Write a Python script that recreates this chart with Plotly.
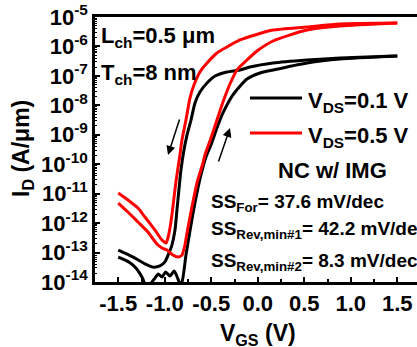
import plotly.graph_objects as go

# ---------------- data ----------------
# V_DS = 0.1 V, forward sweep (-1.5 -> 1.5)
v_blk_fwd = [-1.50, -1.43, -1.37, -1.31, -1.27, -1.23, -1.20, -1.16, -1.105, -1.07, -1.03, -0.99,
             -0.944, -0.90, -0.87, -0.837, -0.815, -0.772, -0.718, -0.665, -0.611, -0.557, -0.503,
             -0.439, -0.374, -0.267, -0.116, 0.024, 0.164, 0.529, 0.884, 1.50]
i_blk_fwd = [7.0e-14, 5.6e-14, 4.4e-14, 3.0e-14, 2.0e-14, 1.17e-14, 6e-15, 8e-15, 1.36e-14, 1.86e-14,
             1.47e-14, 2.18e-14, 1.59e-14, 2.35e-14, 1.59e-14, 9e-15, 1.0e-14, 8.2e-14, 8.6e-13,
             7.1e-12, 4.3e-11, 1.76e-10, 4.5e-10, 1.70e-9, 5.5e-9, 2.25e-8, 7.8e-8, 1.25e-7,
             1.58e-7, 2.74e-7, 3.74e-7, 4.73e-7]

# V_DS = 0.1 V, reverse sweep (1.5 -> -1.5)
v_blk_rev = [1.50, 0.884, 0.529, 0.164, -0.084, -0.191, -0.331, -0.46, -0.536, -0.622, -0.675,
             -0.718, -0.761, -0.794, -0.826, -0.848, -0.869, -0.890, -0.923, -0.955, -0.998,
             -1.052, -1.127, -1.213, -1.32, -1.428, -1.50]
i_blk_rev = [4.73e-7, 4.05e-7, 3.46e-7, 2.74e-7, 2.0e-7, 1.58e-7, 1.36e-7, 9.9e-8, 6.2e-8, 2.83e-8,
             1.20e-8, 3.17e-9, 9.8e-10, 3.0e-10, 6.3e-11, 1.33e-11, 2.78e-12, 5.8e-13, 1.80e-13,
             9.6e-14, 4.8e-14, 3.5e-14, 3.2e-14, 4.1e-14, 6.5e-14, 9.6e-14, 1.22e-13]

# V_DS = 0.5 V, forward sweep
v_red_fwd = [-1.50, -1.396, -1.288, -1.181, -1.084, -1.03, -0.976, -0.912, -0.858, -0.815, -0.783,
             -0.761, -0.708, -0.654, -0.589, -0.568, -0.503, -0.439, -0.374, -0.299, -0.224,
             -0.116, -0.008, 0.164, 0.529, 0.884, 1.50]
i_red_fwd = [4.8e-12, 2.38e-12, 1.09e-12, 4.98e-13, 1.95e-13, 1.42e-13, 1.22e-13, 8.2e-14, 7.0e-14,
             8.2e-14, 1.80e-13, 4.6e-13, 3.5e-12, 2.30e-11, 1.10e-10, 2.05e-10, 7.8e-10, 3.17e-9,
             1.30e-8, 5.3e-8, 1.58e-7, 3.46e-7, 7.0e-7, 1.53e-6, 3.61e-6, 4.94e-6, 6.25e-6]

# V_DS = 0.5 V, reverse sweep
v_red_rev = [1.50, 0.884, 0.529, 0.164, -0.03, -0.191, -0.331, -0.439, -0.536, -0.622, -0.686,
             -0.729, -0.772, -0.815, -0.837, -0.858, -0.88, -0.901, -0.923, -0.944, -0.966,
             -0.987, -1.03, -1.105, -1.213, -1.288, -1.396, -1.50]
i_red_rev = [6.25e-6, 5.78e-6, 4.57e-6, 3.61e-6, 2.45e-6, 1.66e-6, 9.6e-7, 6.0e-7, 2.96e-7, 1.36e-7,
             4.9e-8, 1.77e-8, 3.17e-9, 6.6e-10, 2.05e-10, 7.4e-11, 2.48e-11, 7.1e-12, 1.9e-12,
             6.8e-13, 3.11e-13, 2.1e-13, 2.66e-13, 5.8e-13, 1.61e-12, 3.25e-12, 6.1e-12, 1.05e-11]

y_tick_vals = [1e-14, 1e-13, 1e-12, 1e-11, 1e-10, 1e-9, 1e-8, 1e-7, 1e-6, 1e-5]
y_tick_text = ["10<sup>-14</sup>", "10<sup>-13</sup>", "10<sup>-12</sup>", "10<sup>-11</sup>",
               "10<sup>-10</sup>", "10<sup>-9</sup>", "10<sup>-8</sup>", "10<sup>-7</sup>",
               "10<sup>-6</sup>", "10<sup>-5</sup>"]
x_tick_vals = [-1.5, -1.0, -0.5, 0.0, 0.5, 1.0, 1.5]
x_tick_text = ["-1.5", "-1.0", "-0.5", "0.0", "0.5", "1.0", "1.5"]

# ---------------- layout helpers ----------------
W, H = 417, 347
ML, MT, MR, MB = 95, 17, 0, 65
PW, PH = W - ML - MR, H - MT - MB


def px(x):
    return (x - ML) / PW


def py(y):
    return (H - MB - y) / PH


FONT = "Liberation Sans, Arial, sans-serif"
BLACK = "#000000"
RED = "#ff0000"

fig = go.Figure()
for v, i, c in [(v_blk_fwd, i_blk_fwd, BLACK), (v_blk_rev, i_blk_rev, BLACK),
                (v_red_fwd, i_red_fwd, RED), (v_red_rev, i_red_rev, RED)]:
    fig.add_trace(go.Scatter(x=v, y=i, mode="lines",
                             line=dict(color=c, width=3, shape="spline", smoothing=0.6),
                             showlegend=False, hoverinfo="skip"))

fig.update_layout(
    width=W, height=H,
    margin=dict(l=ML, r=MR, t=MT, b=MB, pad=0),
    paper_bgcolor="white", plot_bgcolor="white",
    font=dict(family=FONT, color="black"),
    xaxis=dict(range=[-1.75, 1.712], showgrid=False, zeroline=False,
               showline=True, linecolor="black", linewidth=2.5, mirror=True,
               ticks="inside", ticklen=5, tickwidth=2, tickcolor="black",
               tickvals=x_tick_vals, ticktext=x_tick_text,
               tickfont=dict(family=FONT, size=22, weight="bold", color="black"),
               minor=dict(ticks="inside", ticklen=3, tickwidth=1.5, tickcolor="black", dtick=0.25)),
    yaxis=dict(type="log", range=[-14, -5], showgrid=False, zeroline=False,
               showline=True, linecolor="black", linewidth=2.5, mirror=False,
               ticks="inside", ticklen=5, tickwidth=2, tickcolor="black",
               tickvals=y_tick_vals, ticktext=y_tick_text,
               tickfont=dict(family=FONT, size=22, weight="bold", color="black"),
               minor=dict(ticks="inside", ticklen=2, tickwidth=1.2, tickcolor="black", dtick="D1")),
)

# legend lines
fig.add_shape(type="line", xref="paper", yref="paper", x0=px(250), x1=px(302), y0=py(98), y1=py(98),
              line=dict(color=BLACK, width=3))
fig.add_shape(type="line", xref="paper", yref="paper", x0=px(250), x1=px(302), y0=py(133), y1=py(133),
              line=dict(color=RED, width=3))


def txt(s, x, y, size, anchor="left", angle=0):
    fig.add_annotation(text=s, xref="paper", yref="paper", x=px(x), y=py(y), showarrow=False,
                       xanchor=anchor, yanchor="middle", textangle=angle,
                       font=dict(family=FONT, size=size, weight="bold", color="black"))


txt("L<sub>ch</sub>=0.5 μm", 99, 37, 22)
txt("T<sub>ch</sub>=8 nm", 99, 74, 22)
txt("V<sub>DS</sub>=0.1 V", 306, 102, 22)
txt("V<sub>DS</sub>=0.5 V", 306, 137, 22)
txt("NC w/ IMG", 276, 170, 22)
txt("SS<sub>For</sub>= 37.6 mV/dec", 209, 203, 19)
txt("SS<sub>Rev,min#1</sub>= 42.2 mV/dec", 209, 230, 19)
txt("SS<sub>Rev,min#2</sub>= 8.3 mV/dec", 209, 262, 19)
txt("V<sub>GS</sub> (V)", 258, 334, 23, anchor="center")
txt("I<sub>D</sub> (A/μm)", 22, 149, 23, anchor="center", angle=-90)

# sweep direction arrows
for hx, hy, tx, ty in [(168, 155, 180, 118), (230, 128, 218, 163)]:
    fig.add_annotation(xref="paper", yref="paper", x=px(hx), y=py(hy), ax=tx - hx, ay=ty - hy,
                       axref="pixel", ayref="pixel", text="", showarrow=True,
                       arrowhead=2, arrowsize=1.2, arrowwidth=1.5, arrowcolor="black")

fig.write_html("out.html")
